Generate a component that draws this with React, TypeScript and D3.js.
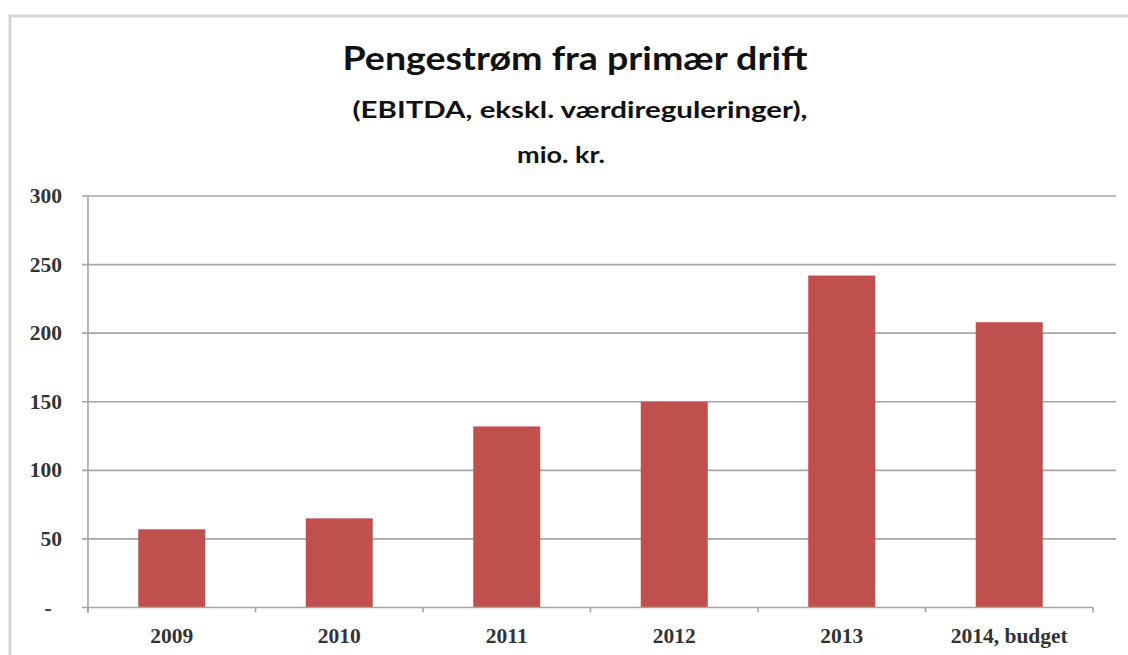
import * as d3 from 'd3'

const W = 1128
const H = 655

const categories = ['2009', '2010', '2011', '2012', '2013', '2014, budget']
const values     = [57, 65, 132, 150, 242, 208]
const yTicks     = [0, 50, 100, 150, 200, 250, 300]

const titleLines = [
  'Pengestrøm fra primær drift',
  '(EBITDA, ekskl. værdireguleringer),',
  'mio. kr.',
]

const BAR_COLOR  = '#c0504d'
const GRID_COLOR = '#a6a6a6'
const LABEL_FONT = '"Liberation Serif", "DejaVu Serif", serif'
const TITLE_FONT = 'Lato, "Open Sans", sans-serif'

// y label: Excel accounting style shows zero as a dash
function fmtY(v: number) {
  return v === 0 ? '-' : String(v)
}

export default function App() {
  const plotLeft  = 88
  const plotRight = 1093
  const gridRight = 1116
  const plotTop   = 196
  const plotBot   = 607.5

  const x = d3.scaleBand<string>()
    .domain(categories)
    .range([plotLeft, plotRight])
    .paddingInner(0.6)
    .paddingOuter(0.3)

  const y = d3.scaleLinear().domain([0, 300]).range([plotBot, plotTop])

  // category boundaries for the bottom axis ticks
  const boundaries = categories.map((_, i) => plotLeft + i * (plotRight - plotLeft) / categories.length)
  boundaries.push(plotRight)

  const labelStyle = { fontFamily: LABEL_FONT, fontWeight: 700, fontSize: 21.5, fill: '#333' }

  return (
    <svg width={W} height={H} style={{ position: 'absolute', left: 0, top: 0, background: '#fff' }}>
      {/* chart frame */}
      <rect x={10} y={16} width={W + 20} height={H + 20} fill="#fff" stroke="#d4d4d4" strokeWidth={3} />

      {/* title */}
      <text x={575} y={70} textAnchor="middle" textLength={465} lengthAdjust="spacingAndGlyphs"
        style={{ fontFamily: TITLE_FONT, fontWeight: 700, fontSize: 33, fill: '#111' }}>
        {titleLines[0]}
      </text>
      <text x={580} y={118} textAnchor="middle" textLength={455} lengthAdjust="spacingAndGlyphs"
        style={{ fontFamily: TITLE_FONT, fontWeight: 700, fontSize: 23, fill: '#111' }}>
        {titleLines[1]}
      </text>
      <text x={561} y={163} textAnchor="middle" textLength={88} lengthAdjust="spacingAndGlyphs"
        style={{ fontFamily: TITLE_FONT, fontWeight: 700, fontSize: 23, fill: '#111' }}>
        {titleLines[2]}
      </text>

      {/* gridlines + y ticks */}
      {yTicks.map(t => (
        <g key={t}>
          <line x1={plotLeft - 6} x2={t > 0 ? gridRight : plotLeft} y1={y(t)} y2={y(t)}
            stroke={GRID_COLOR} strokeWidth={1.6} />
          <text
            x={t === 0 ? 48 : 62} y={y(t)}
            textAnchor={t === 0 ? 'middle' : 'end'} dominantBaseline="central"
            style={labelStyle}
          >
            {fmtY(t)}
          </text>
        </g>
      ))}

      {/* bars */}
      {values.map((v, i) => (
        <rect key={categories[i]}
          x={x(categories[i])} y={y(v)}
          width={x.bandwidth()} height={y(0) - y(v)}
          fill={BAR_COLOR} />
      ))}

      {/* axes */}
      <line x1={plotLeft} x2={plotLeft} y1={plotTop} y2={plotBot + 5} stroke={GRID_COLOR} strokeWidth={1.6} />
      <line x1={plotLeft} x2={plotRight} y1={plotBot} y2={plotBot} stroke={GRID_COLOR} strokeWidth={1.6} />
      {boundaries.map((bx, i) => (
        <line key={i} x1={bx} x2={bx} y1={plotBot} y2={plotBot + 5} stroke={GRID_COLOR} strokeWidth={1.6} />
      ))}

      {/* x labels */}
      {categories.map(c => (
        <text key={c}
          x={(x(c) ?? 0) + x.bandwidth() / 2} y={636}
          textAnchor="middle" dominantBaseline="central"
          style={labelStyle}>
          {c}
        </text>
      ))}
    </svg>
  )
}
